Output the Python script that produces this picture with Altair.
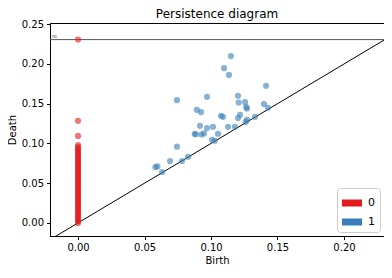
import altair as alt
import pandas as pd

title_text = "Persistence diagram"

# H0 (dimension 0) deaths, all born at 0
h0_death = [0.0, 0.002, 0.004, 0.006, 0.008, 0.010, 0.012, 0.014, 0.016, 0.018,
            0.020, 0.022, 0.024, 0.026, 0.028, 0.030, 0.032, 0.034, 0.036, 0.038,
            0.040, 0.042, 0.044, 0.046, 0.048, 0.050, 0.052, 0.054, 0.056, 0.058,
            0.060, 0.062, 0.064, 0.066, 0.068, 0.070, 0.072, 0.074, 0.076, 0.078,
            0.080, 0.082, 0.084, 0.086, 0.088, 0.090, 0.092, 0.094, 0.0955, 0.098,
            0.1095, 0.1285, 0.2307]
h0_birth = [0.0] * len(h0_death)

# H1 (dimension 1) pairs
h1_birth = [0.0582, 0.0597, 0.0632, 0.0692, 0.0744, 0.0782, 0.0827,
            0.0744,
            0.0877, 0.0885, 0.0927, 0.0947, 0.1053,
            0.1008, 0.1028,
            0.0917, 0.0970, 0.1015, 0.1128, 0.1180,
            0.0893, 0.0925,
            0.1075, 0.1090,
            0.1218, 0.1203, 0.1271, 0.1261, 0.1331,
            0.0970, 0.1203, 0.1208, 0.1256, 0.1265, 0.1271,
            0.1398, 0.1429, 0.1414,
            0.1098, 0.1135, 0.1150]
h1_death = [0.0703, 0.0711, 0.0641, 0.0779, 0.0959, 0.0779, 0.0833,
            0.1545,
            0.1122, 0.1115, 0.1113, 0.1126, 0.1122,
            0.1047, 0.1034,
            0.1222, 0.1193, 0.1209, 0.1209, 0.1209,
            0.1423, 0.1394,
            0.1349, 0.1335,
            0.1360, 0.1319, 0.1298, 0.1271, 0.1335,
            0.1587, 0.1599, 0.1515, 0.1520, 0.1457, 0.1440,
            0.1495, 0.1449, 0.1725,
            0.1947, 0.1863, 0.2100]

dims = ["0", "1"]
colors = ["#e41a1c", "#377eb8"]
x_domain = [-0.0211, 0.2301]
y_domain = [-0.0165, 0.2516]
diag_ends = [-0.0211, 0.2301]
inf_value = 0.2307
x_ticks = [0.0, 0.05, 0.10, 0.15, 0.20]
y_ticks = [0.0, 0.05, 0.10, 0.15, 0.20, 0.25]

W, H = 334, 213

df = pd.DataFrame({
    "birth": h0_birth + h1_birth,
    "death": h0_death + h1_death,
    "dim": [dims[0]] * len(h0_death) + [dims[1]] * len(h1_birth),
})

xs = alt.Scale(domain=x_domain, nice=False, zero=False)
ys = alt.Scale(domain=y_domain, nice=False, zero=False)

diag = alt.Chart(pd.DataFrame({"a": [diag_ends[0]], "b": [diag_ends[1]]})).mark_rule(
    color="black", strokeWidth=1, clip=True
).encode(
    x=alt.X("a:Q", scale=xs),
    x2="b:Q",
    y=alt.Y("a:Q", scale=ys),
    y2="b:Q",
)

inf_line = alt.Chart(pd.DataFrame({"v": [inf_value]})).mark_rule(
    color="#555555", strokeWidth=1
).encode(y=alt.Y("v:Q", scale=ys))

inf_text = alt.Chart(pd.DataFrame({"v": [inf_value], "t": ["∞"]})).mark_text(
    align="left", baseline="bottom", fontSize=8, color="#888888", dx=1, dy=1,
    font="DejaVu Sans"
).encode(x=alt.value(0), y=alt.Y("v:Q", scale=ys), text="t:N")

title_mark = alt.Chart(pd.DataFrame({"t": [title_text]})).mark_text(
    align="center", baseline="alphabetic", fontSize=12, color="black",
    font="DejaVu Sans"
).encode(x=alt.value(W / 2), y=alt.value(-5.5), text="t:N")

points = alt.Chart(df).mark_circle(size=38, opacity=0.6).encode(
    x=alt.X("birth:Q", scale=xs, title="Birth",
            axis=alt.Axis(values=x_ticks, format=".2f", titlePadding=3)),
    y=alt.Y("death:Q", scale=ys, title="Death",
            axis=alt.Axis(values=y_ticks, format=".2f")),
    color=alt.Color("dim:N", scale=alt.Scale(domain=dims, range=colors),
                    legend=alt.Legend(
                        title=None, orient="bottom-right", offset=4,
                        symbolType="M-1,-0.35L1,-0.35L1,0.35L-1,0.35Z",
                        symbolSize=400, symbolOpacity=1, symbolStrokeWidth=0,
                        labelFontSize=11, labelFont="DejaVu Sans", labelColor="black",
                        padding=5, fillColor="white", strokeColor="#cccccc",
                        cornerRadius=3, rowPadding=4, labelOffset=6)),
)

chart = alt.layer(inf_line, diag, points, inf_text, title_mark).properties(
    width=W, height=H,
    padding={"left": 42, "top": 15, "right": 0, "bottom": 30},
    autosize=alt.AutoSizeParams(type="none"),
).configure_view(
    stroke="black", strokeWidth=1
).configure_axis(
    grid=False, domainColor="black", tickColor="black", tickSize=3.5,
    labelFont="DejaVu Sans", labelFontSize=10, labelColor="black",
    titleFont="DejaVu Sans", titleFontSize=10, titleColor="black",
    titleFontWeight="normal", labelPadding=3,
)

chart.save("out.html", embed_options={"renderer": "svg", "actions": False})
